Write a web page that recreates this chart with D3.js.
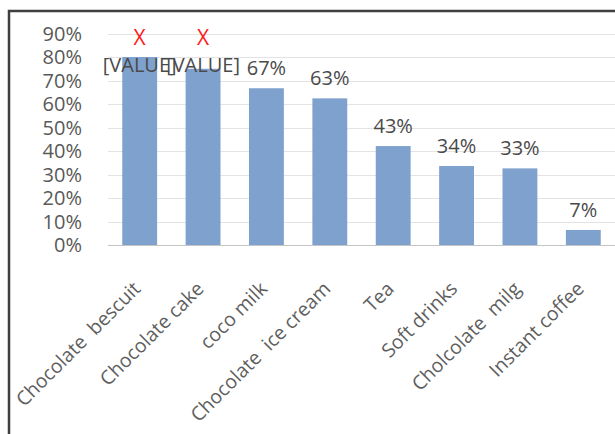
<!DOCTYPE html>
<html>
<head>
<meta charset="utf-8">
<script src="https://cdn.jsdelivr.net/npm/d3@7"></script>
<style>
  html, body { margin: 0; padding: 0; background: #ffffff; }
  svg { display: block; }
  text { font-family: "Open Sans", sans-serif; }
</style>
</head>
<body>
<svg id="chart" width="615" height="434"></svg>
<script>
const categories = ["Chocolate  bescuit", "Chocolate cake", "coco milk", "Chocolate  ice cream", "Tea", "Soft drinks", "Cholcolate  milg", "Instant coffee"];
const values = [0.80, 0.75, 0.667, 0.624, 0.421, 0.336, 0.326, 0.064];
const valueLabels = ["[VALUE]", "[VALUE]", "67%", "63%", "43%", "34%", "33%", "7%"];
const errorMarks = ["X", "X", "", "", "", "", "", ""];
const yTicks = [0, 0.1, 0.2, 0.3, 0.4, 0.5, 0.6, 0.7, 0.8, 0.9];
const yTickLabels = ["0%", "10%", "20%", "30%", "40%", "50%", "60%", "70%", "80%", "90%"];
const errorLabelLevel = 0.736;
const errorMarkLevel = 0.855;

const svg = d3.select("#chart");
const W = 615, H = 434;

const x = d3.scaleBand().domain(categories).range([108, 615]).paddingInner(0.45).paddingOuter(0.225);
const y = d3.scaleLinear().domain([0, 0.9]).range([245, 33.5]);

// gridlines
svg.append("g").selectAll("line").data(yTicks.slice(1)).join("line")
  .attr("x1", 108).attr("x2", 615)
  .attr("y1", d => Math.round(y(d)) + 0.5).attr("y2", d => Math.round(y(d)) + 0.5)
  .attr("stroke", "#e3e3e3").attr("stroke-width", 1);

// bars
svg.append("g").selectAll("rect").data(categories).join("rect")
  .attr("x", d => x(d))
  .attr("width", x.bandwidth())
  .attr("y", (d, i) => y(values[i]))
  .attr("height", (d, i) => y(0) - y(values[i]))
  .attr("fill", "#7ea1cd");

// x axis line
svg.append("line")
  .attr("x1", 108).attr("x2", 615)
  .attr("y1", Math.round(y(0)) + 0.5).attr("y2", Math.round(y(0)) + 0.5)
  .attr("stroke", "#c4c4c4").attr("stroke-width", 1.2);

// y tick labels
svg.append("g").selectAll("text").data(yTicks).join("text")
  .attr("x", 82).attr("y", d => y(d))
  .attr("dy", "0.36em")
  .attr("text-anchor", "end")
  .attr("font-size", 20)
  .attr("fill", "#595959")
  .text((d, i) => yTickLabels[i]);

// value labels
svg.append("g").selectAll("text").data(categories).join("text")
  .attr("x", d => x(d) + x.bandwidth() / 2)
  .attr("y", (d, i) => valueLabels[i] === "[VALUE]" ? y(errorLabelLevel) : y(values[i]) - 13)
  .attr("text-anchor", "middle")
  .attr("font-size", 20)
  .attr("fill", "#4a4a4a")
  .text((d, i) => valueLabels[i]);

// red error marks
svg.append("g").selectAll("text").data(categories).join("text")
  .attr("x", d => x(d) + x.bandwidth() / 2)
  .attr("y", y(errorMarkLevel) + 1)
  .attr("text-anchor", "middle")
  .attr("font-size", 21)
  .attr("fill", "#ff1a1a")
  .text((d, i) => errorMarks[i]);

// category labels
const xAxis = d3.axisBottom(x).tickSize(0).tickPadding(0);
const gx = svg.append("g").call(xAxis);
gx.select(".domain").remove();
gx.selectAll(".tick text")
  .attr("x", 0).attr("y", 0).attr("dy", 0)
  .attr("text-anchor", "end")
  .attr("font-size", 19.5)
  .attr("font-family", "Open Sans, sans-serif")
  .attr("fill", "#5e5e5e")
  .style("white-space", "pre")
  .attr("transform", "translate(2,290) rotate(-45)");

// frame (left & top border)
svg.append("path")
  .attr("d", `M9,${H} L9,11 L${W},11`)
  .attr("fill", "none")
  .attr("stroke", "#3f3f3f")
  .attr("stroke-width", 2.5);
</script>
</body>
</html>
